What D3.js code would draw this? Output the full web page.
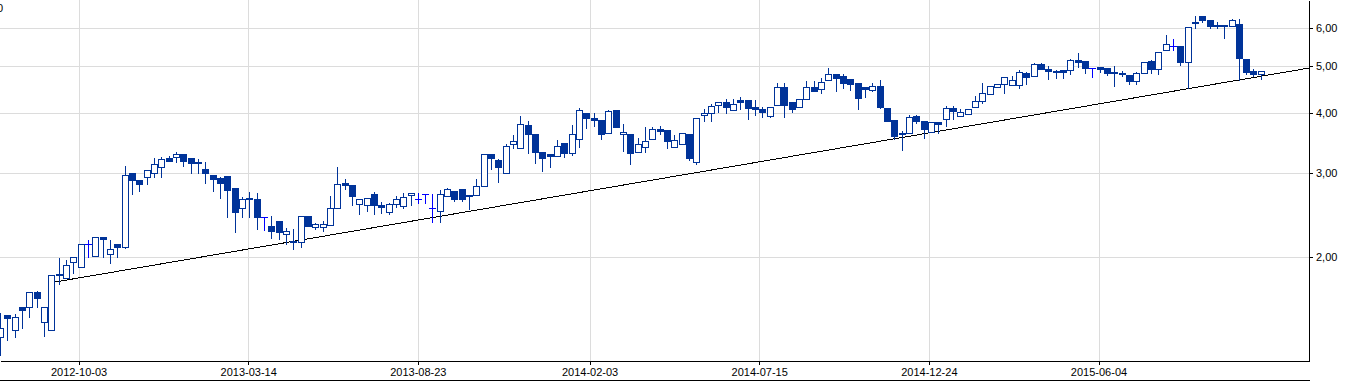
<!DOCTYPE html>
<html lang="en">
<head>
  <meta charset="UTF-8">
  <title>Weekly candles</title>
  <script src="https://d3js.org/d3.v7.min.js"></script>
  <style>
    body {
      margin: 0;
      background: #fff;
      font-family: "Liberation Sans", Arial, sans-serif;
    }
    svg { display: block; }
    .grid line { stroke: #dcdcdc; stroke-width: 1; shape-rendering: crispEdges; }
    .axis text { font-family: "Liberation Sans", Arial, sans-serif; font-size: 11px; fill: #000; }
    .axis path, .axis line { stroke: #000; shape-rendering: crispEdges; }
  </style>
</head>
<body>
  <svg id="chart"></svg>
  <script>
    // weekly candles, one per Friday starting here
    const firstWeek = "2012-07-20";

    const open = [
      1.36, 1.51, 1.41, 1.57, 1.57, 1.69, 1.46, 1.41, 1.83, 1.81,
      1.95, 1.91, 2.13, 2.01, 2.20, 2.03, 2.13, 2.10, 3.00, 2.90,
      2.94, 3.00, 3.08, 3.22, 3.23, 3.28, 3.22, 3.16, 3.05, 2.97,
      2.92, 2.95, 2.79, 2.53, 2.64, 2.64, 2.42, 2.32, 2.38, 2.23,
      2.16, 2.15, 2.44, 2.31, 2.31, 2.33, 2.53, 2.86, 2.83, 2.58,
      2.57, 2.71, 2.57, 2.48, 2.58, 2.56, 2.69, 2.64, 2.71, 2.53,
      2.50, 2.68, 2.75, 2.77, 2.70, 2.69, 2.81, 3.28, 3.19, 2.99,
      3.44, 3.38, 3.77, 3.61, 3.31, 3.28, 3.25, 3.46, 3.30, 3.53,
      4.00, 3.90, 3.86, 3.63, 4.05, 3.61, 3.61, 3.31, 3.39, 3.53,
      3.70, 3.68, 3.39, 3.44, 3.61, 3.16, 3.96, 4.00, 4.15, 4.21,
      4.05, 4.25, 4.25, 4.11, 4.07, 3.94, 4.15, 4.53, 4.21, 4.11,
      4.28, 4.53, 4.49, 4.68, 4.82, 4.77, 4.71, 4.62, 4.53, 4.46,
      4.55, 4.09, 3.86, 3.63, 3.63, 3.94, 3.85, 3.65, 3.83, 3.88,
      4.09, 3.94, 3.98, 4.11, 4.23, 4.38, 4.53, 4.60, 4.57, 4.57,
      4.84, 4.77, 5.06, 4.94, 4.89, 4.91, 4.91, 5.16, 5.13, 4.96,
      4.99, 4.96, 4.87, 4.84, 4.80, 4.66, 4.84, 5.13, 4.94, 5.41,
      5.52, 5.52, 5.11, 6.19, 6.37, 6.25, 6.10, 6.10, 6.07, 6.13,
      5.18, 4.89, 4.82
    ];
    const high = [
      1.53, 1.51, 1.52, 1.57, 1.69, 1.70, 1.57, 1.83, 1.99, 1.97,
      2.00, 2.13, 2.17, 2.20, 2.20, 2.17, 2.13, 3.10, 3.00, 2.90,
      3.04, 3.22, 3.23, 3.25, 3.31, 3.28, 3.22, 3.20, 3.16, 2.97,
      2.94, 2.95, 2.79, 2.67, 2.73, 2.72, 2.42, 2.44, 2.38, 2.30,
      2.29, 2.44, 2.44, 2.36, 2.38, 2.68, 3.08, 2.91, 2.83, 2.64,
      2.66, 2.73, 2.61, 2.59, 2.68, 2.72, 2.72, 2.72, 2.71, 2.71,
      2.76, 2.79, 2.75, 2.77, 2.70, 2.91, 3.28, 3.28, 3.20, 3.44,
      3.60, 3.94, 3.85, 3.61, 3.31, 3.28, 3.51, 3.46, 3.77, 4.09,
      4.00, 4.00, 3.86, 4.05, 4.05, 3.79, 3.61, 3.54, 3.74, 3.74,
      3.75, 3.68, 3.60, 3.63, 3.61, 3.90, 4.07, 4.17, 4.21, 4.28,
      4.28, 4.32, 4.25, 4.25, 4.11, 4.11, 4.62, 4.62, 4.21, 4.28,
      4.66, 4.66, 4.73, 4.96, 4.82, 4.82, 4.71, 4.62, 4.53, 4.62,
      4.68, 4.09, 3.86, 3.67, 3.96, 3.96, 3.85, 3.83, 3.83, 4.13,
      4.13, 4.07, 4.07, 4.34, 4.62, 4.55, 4.60, 4.75, 4.77, 4.91,
      4.87, 5.08, 5.08, 5.01, 4.91, 4.91, 5.18, 5.33, 5.13, 4.96,
      4.99, 4.96, 5.01, 4.89, 4.80, 4.87, 5.11, 5.16, 5.36, 5.82,
      5.71, 5.52, 6.04, 6.37, 6.37, 6.25, 6.19, 6.10, 6.28, 6.28,
      5.18, 4.94, 4.89
    ];
    const low = [
      1.25, 1.34, 1.36, 1.42, 1.50, 1.57, 1.37, 1.41, 1.76, 1.81,
      1.85, 1.91, 2.00, 2.01, 2.00, 1.94, 2.00, 2.09, 2.71, 2.75,
      2.84, 2.94, 2.94, 3.17, 3.16, 3.10, 3.00, 3.00, 2.86, 2.75,
      2.66, 2.42, 2.25, 2.42, 2.42, 2.29, 2.28, 2.19, 2.18, 2.13,
      2.08, 2.10, 2.32, 2.29, 2.27, 2.33, 2.53, 2.77, 2.57, 2.46,
      2.50, 2.46, 2.47, 2.46, 2.54, 2.53, 2.57, 2.59, 2.59, 2.37,
      2.37, 2.68, 2.62, 2.62, 2.52, 2.69, 2.81, 3.05, 2.87, 2.99,
      3.38, 3.38, 3.30, 3.14, 3.02, 3.08, 3.25, 3.23, 3.27, 3.39,
      3.72, 3.75, 3.53, 3.63, 3.74, 3.33, 3.13, 3.31, 3.31, 3.53,
      3.61, 3.38, 3.39, 3.44, 3.19, 3.13, 3.85, 3.85, 4.02, 4.00,
      4.05, 4.07, 3.88, 3.96, 3.92, 3.92, 4.15, 3.92, 4.02, 4.11,
      4.28, 4.44, 4.40, 4.68, 4.44, 4.51, 4.46, 4.07, 4.32, 4.44,
      4.09, 3.85, 3.53, 3.35, 3.63, 3.81, 3.54, 3.65, 3.63, 3.75,
      3.88, 3.94, 3.98, 4.11, 4.19, 4.38, 4.53, 4.40, 4.57, 4.51,
      4.60, 4.77, 4.94, 4.71, 4.73, 4.73, 4.82, 4.99, 4.84, 4.75,
      4.87, 4.80, 4.55, 4.77, 4.60, 4.60, 4.84, 4.84, 4.82, 5.41,
      5.41, 5.03, 4.51, 6.01, 6.19, 6.01, 6.01, 5.73, 6.07, 4.68,
      4.82, 4.77, 4.71
    ];
    const close = [
      1.42, 1.49, 1.50, 1.55, 1.69, 1.64, 1.57, 1.83, 1.84, 1.92,
      2.00, 2.13, 2.13, 2.20, 2.18, 2.08, 2.10, 2.97, 2.90, 2.84,
      3.04, 3.13, 3.20, 3.17, 3.28, 3.17, 3.14, 3.15, 2.99, 2.91,
      2.85, 2.76, 2.48, 2.64, 2.65, 2.42, 2.42, 2.27, 2.25, 2.27,
      2.15, 2.44, 2.32, 2.34, 2.34, 2.53, 2.84, 2.83, 2.68, 2.64,
      2.66, 2.57, 2.54, 2.58, 2.64, 2.67, 2.72, 2.64, 2.71, 2.53,
      2.71, 2.77, 2.64, 2.64, 2.69, 2.81, 3.28, 3.22, 3.08, 3.41,
      3.49, 3.79, 3.61, 3.31, 3.22, 3.25, 3.41, 3.30, 3.61, 4.05,
      3.90, 3.86, 3.61, 4.04, 3.74, 3.65, 3.30, 3.44, 3.49, 3.70,
      3.67, 3.49, 3.51, 3.63, 3.22, 3.90, 4.00, 4.13, 4.21, 4.11,
      4.17, 4.21, 4.09, 4.07, 4.02, 4.11, 4.53, 4.15, 4.07, 4.28,
      4.53, 4.44, 4.64, 4.82, 4.73, 4.62, 4.60, 4.30, 4.49, 4.55,
      4.11, 3.85, 3.58, 3.61, 3.92, 3.85, 3.70, 3.83, 3.79, 4.09,
      4.04, 4.02, 4.07, 4.23, 4.40, 4.55, 4.60, 4.75, 4.68, 4.87,
      4.75, 5.06, 4.94, 4.89, 4.88, 4.87, 5.16, 5.11, 4.96, 4.96,
      4.94, 4.84, 4.84, 4.82, 4.66, 4.84, 5.11, 4.94, 5.36, 5.57,
      5.52, 5.11, 6.04, 6.16, 6.25, 6.07, 6.09, 6.09, 6.25, 5.21,
      4.87, 4.82, 4.89
    ];

    // support line drawn across the chart
    const trendDates = ["2012-09-05", "2015-12-22"];
    const trendValues = [1.765, 4.96];

    const xTickDates = ["2012-10-03", "2013-03-14", "2013-08-23", "2014-02-03", "2014-07-15", "2014-12-24", "2015-06-04"];
    const yTickValues = [2, 3, 4, 5, 6];

    const width = 1362;
    const height = 382;
    const plotRight = 1309;
    const plotBottom = 361;

    const parse = d3.utcParse("%Y-%m-%d");
    const start = parse(firstWeek);
    const candles = open.map((o, i) => ({
      date: d3.utcDay.offset(start, 7 * i),
      o, h: high[i], l: low[i], c: close[i]
    }));

    const x = d3.scaleUtc()
      .domain([parse("2012-07-20"), parse("2015-12-22")])
      .range([0, plotRight]);

    const y = d3.scaleLog()
      .domain([1.213, 6.88])
      .range([plotBottom, 0]);

    const svg = d3.select("#chart")
      .attr("width", width)
      .attr("height", height);

    // grid
    const grid = svg.append("g").attr("class", "grid");
    grid.selectAll(".hg")
      .data(yTickValues)
      .enter()
      .append("line")
      .attr("x1", 0)
      .attr("x2", plotRight)
      .attr("y1", d => Math.round(y(d)) + 0.5)
      .attr("y2", d => Math.round(y(d)) + 0.5);
    grid.selectAll(".vg")
      .data(xTickDates.map(parse))
      .enter()
      .append("line")
      .attr("x1", d => Math.round(x(d)) + 0.5)
      .attr("x2", d => Math.round(x(d)) + 0.5)
      .attr("y1", 0)
      .attr("y2", plotBottom);

    // stray label at top left
    svg.append("text")
      .attr("x", 3)
      .attr("y", 12)
      .attr("text-anchor", "end")
      .attr("font-size", 11)
      .attr("font-family", "Liberation Sans, Arial, sans-serif")
      .text("0");

    // trend line
    const trend = trendDates.map((d, i) => [parse(d), trendValues[i]]);
    svg.append("path")
      .datum(trend)
      .attr("fill", "none")
      .attr("stroke", "#000")
      .attr("stroke-width", 1)
      .attr("shape-rendering", "crispEdges")
      .attr("d", d3.line().x(d => x(d[0])).y(d => y(d[1])));

    // candles
    const dark = "#003399";
    const doji = "#0000ff";
    const cg = svg.append("g").attr("shape-rendering", "crispEdges");

    const candle = cg.selectAll(".candle")
      .data(candles)
      .enter()
      .append("g")
      .attr("class", "candle");

    const cx = d => Math.round(x(d.date)) + 0.5;

    candle.append("line")
      .attr("x1", cx)
      .attr("x2", cx)
      .attr("y1", d => Math.round(y(d.h)))
      .attr("y2", d => Math.round(y(d.l)) + 1)
      .attr("stroke", d => d.o === d.c ? doji : dark)
      .attr("stroke-width", 1);

    // open == close: horizontal tick
    candle.filter(d => d.o === d.c)
      .append("line")
      .attr("x1", d => cx(d) - 3.5)
      .attr("x2", d => cx(d) + 3.5)
      .attr("y1", d => Math.round(y(d.o)) + 0.5)
      .attr("y2", d => Math.round(y(d.o)) + 0.5)
      .attr("stroke", doji);

    // falling weeks: solid body
    candle.filter(d => d.c < d.o)
      .append("rect")
      .attr("x", d => cx(d) - 3.5)
      .attr("width", 7)
      .attr("y", d => Math.round(y(d.o)))
      .attr("height", d => Math.max(2, Math.round(y(d.c)) - Math.round(y(d.o)) + 1))
      .attr("fill", dark);

    // rising weeks: hollow body
    candle.filter(d => d.c > d.o)
      .append("rect")
      .attr("x", d => cx(d) - 3)
      .attr("width", 6)
      .attr("y", d => Math.round(y(d.c)) + 0.5)
      .attr("height", d => Math.max(1, Math.round(y(d.o)) - Math.round(y(d.c))))
      .attr("fill", "#fff")
      .attr("stroke", dark)
      .attr("stroke-width", 1);

    // bottom axis
    svg.append("g")
      .attr("class", "axis")
      .attr("transform", `translate(0,${plotBottom})`)
      .call(d3.axisBottom(x)
        .tickValues(xTickDates.map(parse))
        .tickFormat(d3.utcFormat("%Y-%m-%d"))
        .tickSize(4)
        .tickSizeOuter(0));

    // right axis
    svg.append("g")
      .attr("class", "axis")
      .attr("transform", `translate(${plotRight},0)`)
      .call(d3.axisRight(y)
        .tickValues(yTickValues)
        .tickFormat(d => d3.format(".2f")(d).replace(".", ","))
        .tickSize(4)
        .tickSizeOuter(0));

    // bottom border
    svg.append("line")
      .attr("x1", 0)
      .attr("x2", plotRight + 1)
      .attr("y1", height - 1.5)
      .attr("y2", height - 1.5)
      .attr("stroke", "#000")
      .attr("shape-rendering", "crispEdges");
  </script>
</body>
</html>
